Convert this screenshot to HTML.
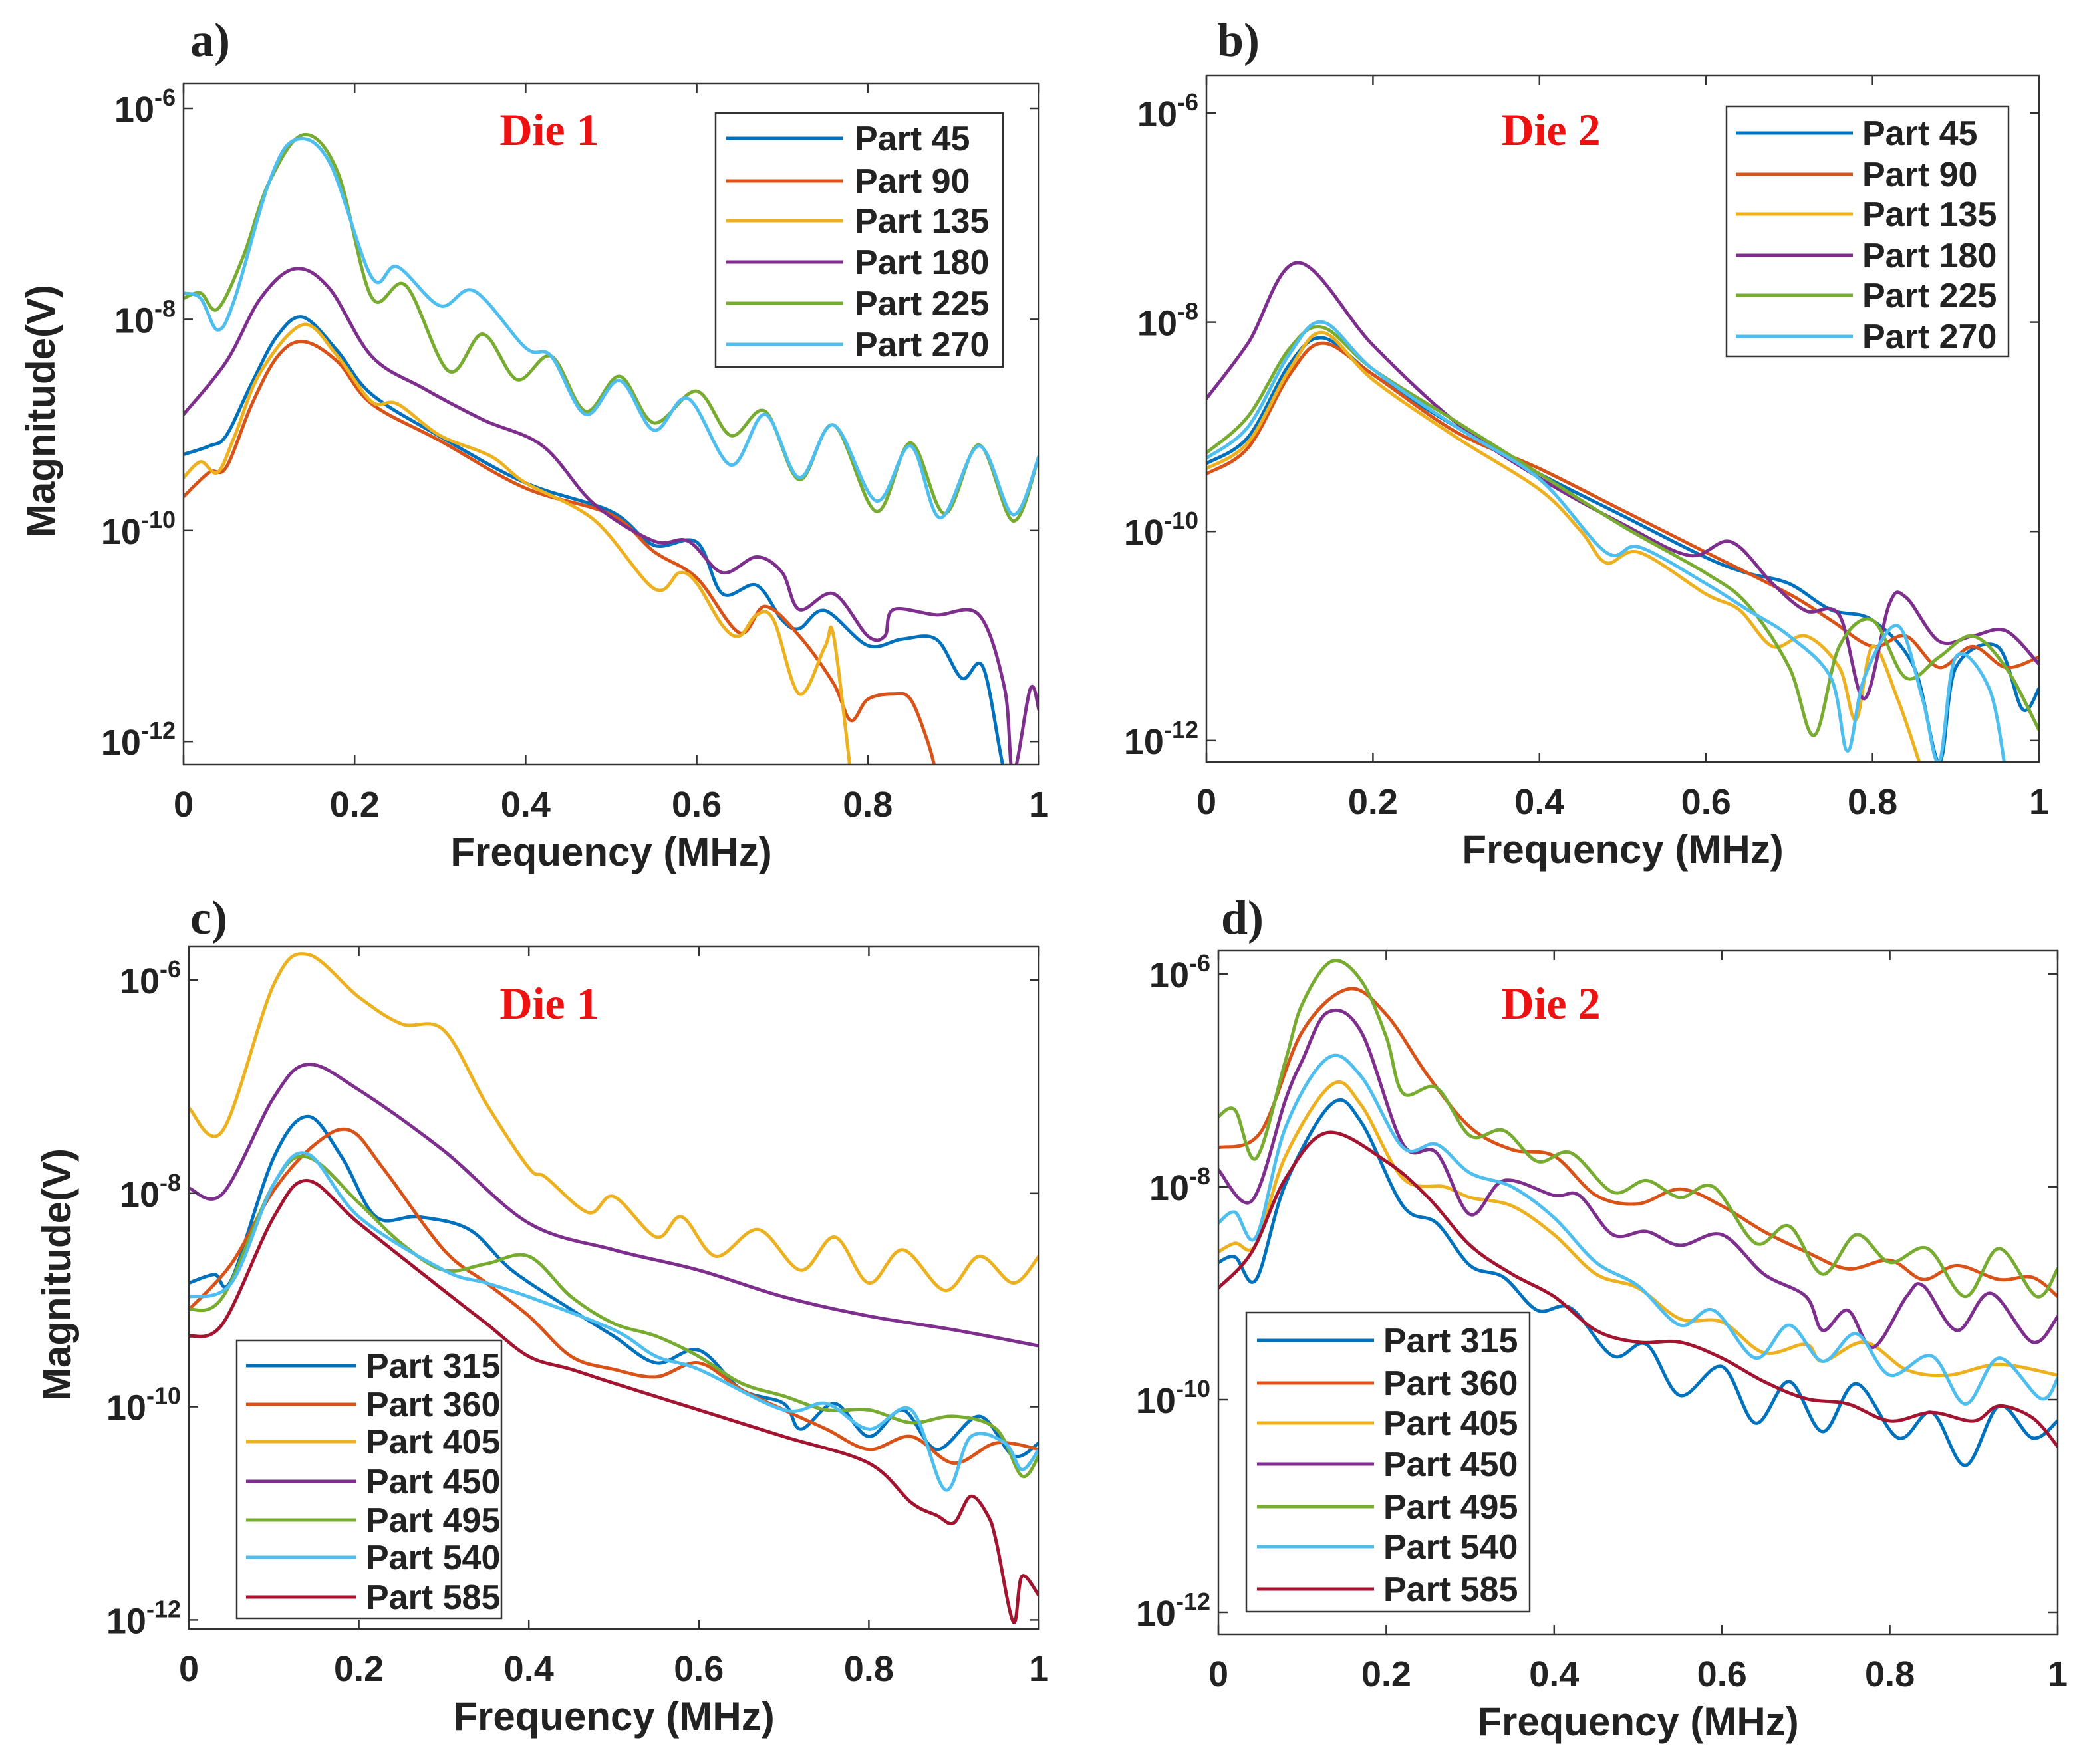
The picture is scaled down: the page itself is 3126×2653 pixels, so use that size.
<!DOCTYPE html>
<html><head><meta charset="utf-8"><style>
html,body{margin:0;padding:0;background:#fff}
svg{display:block}
text{font-family:"Liberation Sans",Arial,sans-serif;font-weight:bold;fill:#222}
.ser{fill:none;stroke-width:5;stroke-linejoin:round;stroke-linecap:round}
</style></head><body>
<svg id="fig" width="3126" height="2653" viewBox="0 0 3126 2653" xmlns="http://www.w3.org/2000/svg"></svg>
<script>
// ===== Data: frequency (MHz) and log10 magnitude (V) =====
// Panel a (Die 1)
const a45_f=[0,0.03,0.05,0.08,0.11,0.14,0.18,0.22,0.3,0.4,0.5,0.55,0.6,0.63,0.67,0.7,0.72,0.75,0.8,0.84,0.88,0.91,0.935,0.96,0.975];
const a45_m=[-9.28,-9.2,-9.1,-8.6,-8.15,-7.98,-8.3,-8.71,-9.11,-9.55,-9.82,-10.14,-10.11,-10.6,-10.52,-10.85,-10.93,-10.76,-11.09,-11.03,-11.03,-11.4,-11.3,-12.3,-12.4];
const a90_f=[0,0.03,0.05,0.08,0.11,0.14,0.18,0.22,0.3,0.4,0.5,0.55,0.6,0.65,0.68,0.72,0.76,0.78,0.8,0.83,0.85,0.87,0.88];
const a90_m=[-9.68,-9.45,-9.4,-8.8,-8.35,-8.21,-8.4,-8.8,-9.15,-9.6,-9.85,-10.2,-10.45,-10.97,-10.72,-11.0,-11.45,-11.8,-11.6,-11.55,-11.6,-12.0,-12.3];
const a135_f=[0,0.02,0.04,0.06,0.09,0.14,0.18,0.22,0.25,0.3,0.36,0.4,0.48,0.55,0.58,0.6,0.63,0.65,0.67,0.69,0.72,0.75,0.76,0.78];
const a135_m=[-9.5,-9.35,-9.45,-9.1,-8.5,-8.05,-8.35,-8.78,-8.8,-9.1,-9.3,-9.55,-9.9,-10.55,-10.4,-10.5,-10.9,-11.0,-10.8,-10.85,-11.55,-11.1,-11.0,-12.3];
const a180_f=[0,0.05,0.09,0.13,0.17,0.22,0.28,0.35,0.42,0.48,0.55,0.59,0.63,0.67,0.7,0.72,0.76,0.8,0.82,0.83,0.88,0.93,0.96,0.97,0.99,1.0];
const a180_m=[-8.9,-8.4,-7.8,-7.52,-7.7,-8.35,-8.65,-8.95,-9.2,-9.75,-10.1,-10.1,-10.4,-10.25,-10.4,-10.75,-10.6,-11.0,-11.0,-10.75,-10.8,-10.8,-11.5,-12.3,-11.5,-11.7];
const a225_f=[0,0.02,0.04,0.07,0.1,0.14,0.18,0.22,0.26,0.31,0.35,0.39,0.43,0.47,0.51,0.55,0.6,0.64,0.68,0.72,0.76,0.81,0.85,0.89,0.93,0.97,1.0];
const a225_m=[-7.8,-7.75,-7.9,-7.4,-6.7,-6.25,-6.6,-7.79,-7.68,-8.49,-8.14,-8.57,-8.35,-8.87,-8.54,-8.98,-8.68,-9.1,-8.87,-9.52,-9.0,-9.82,-9.17,-9.84,-9.19,-9.91,-9.3];
const a270_f=[0,0.02,0.04,0.06,0.1,0.13,0.17,0.22,0.25,0.3,0.34,0.4,0.43,0.47,0.51,0.55,0.59,0.64,0.68,0.72,0.76,0.81,0.85,0.885,0.93,0.97,1.0];
const a270_m=[-7.75,-7.8,-8.1,-7.8,-6.7,-6.3,-6.5,-7.6,-7.5,-7.87,-7.73,-8.27,-8.35,-8.9,-8.58,-9.05,-8.75,-9.38,-8.9,-9.5,-9.0,-9.72,-9.2,-9.88,-9.2,-9.85,-9.3];
// Panel b (Die 2)
const b45_f=[0,0.05,0.1,0.14,0.2,0.3,0.4,0.5,0.6,0.65,0.7,0.75,0.8,0.85,0.88,0.9,0.95,0.98,1.0];
const b45_m=[-9.35,-9.1,-8.4,-8.15,-8.5,-9.0,-9.45,-9.85,-10.25,-10.4,-10.5,-10.75,-10.85,-11.3,-12.2,-11.3,-11.1,-11.7,-11.5];
const b90_f=[0,0.05,0.1,0.14,0.2,0.3,0.4,0.5,0.6,0.7,0.75,0.8,0.84,0.88,0.92,0.96,1.0];
const b90_m=[-9.45,-9.2,-8.5,-8.2,-8.5,-9.05,-9.4,-9.8,-10.2,-10.6,-10.85,-11.1,-11.0,-11.3,-11.1,-11.3,-11.2];
const b135_f=[0,0.05,0.1,0.14,0.2,0.3,0.4,0.45,0.48,0.52,0.6,0.64,0.68,0.72,0.76,0.78,0.8,0.83,0.86];
const b135_m=[-9.4,-9.15,-8.45,-8.1,-8.55,-9.1,-9.6,-10.0,-10.3,-10.2,-10.6,-10.75,-11.1,-11.0,-11.3,-11.8,-11.1,-11.6,-12.3];
const b180_f=[0,0.05,0.11,0.2,0.3,0.4,0.5,0.58,0.63,0.68,0.72,0.76,0.79,0.82,0.84,0.88,0.92,0.96,1.0];
const b180_m=[-8.73,-8.2,-7.43,-8.22,-8.96,-9.49,-9.93,-10.23,-10.1,-10.5,-10.76,-10.8,-11.6,-10.7,-10.63,-11.05,-11.0,-10.95,-11.27];
const b225_f=[0,0.05,0.1,0.14,0.2,0.3,0.4,0.5,0.6,0.65,0.7,0.73,0.76,0.8,0.84,0.88,0.92,0.96,1.0];
const b225_m=[-9.25,-8.9,-8.25,-8.05,-8.45,-8.95,-9.45,-9.95,-10.4,-10.7,-11.3,-11.95,-11.1,-10.85,-11.4,-11.2,-11.0,-11.3,-11.9];
const b270_f=[0,0.05,0.1,0.14,0.2,0.3,0.4,0.48,0.52,0.6,0.65,0.7,0.75,0.77,0.79,0.83,0.86,0.88,0.9,0.94,0.96];
const b270_m=[-9.3,-9.0,-8.3,-8.0,-8.45,-9.0,-9.5,-10.2,-10.15,-10.5,-10.75,-11.0,-11.4,-12.1,-11.4,-10.9,-11.6,-12.2,-11.2,-11.5,-12.3];
// Panel c (Die 1)
const c315_f=[0,0.03,0.05,0.1,0.14,0.18,0.22,0.27,0.33,0.38,0.45,0.5,0.55,0.6,0.65,0.7,0.72,0.76,0.8,0.84,0.88,0.93,0.97,1.0];
const c315_m=[-8.84,-8.76,-8.81,-7.66,-7.28,-7.66,-8.22,-8.22,-8.34,-8.72,-9.09,-9.34,-9.59,-9.47,-9.84,-9.97,-10.21,-9.97,-10.28,-10.03,-10.4,-10.09,-10.46,-10.34];
const c360_f=[0,0.05,0.1,0.15,0.19,0.23,0.3,0.35,0.4,0.45,0.5,0.55,0.6,0.65,0.7,0.75,0.8,0.85,0.9,0.95,1.0];
const c360_m=[-9.09,-8.66,-7.97,-7.53,-7.41,-7.78,-8.53,-8.84,-9.15,-9.53,-9.65,-9.72,-9.59,-9.84,-10.03,-10.21,-10.4,-10.28,-10.53,-10.34,-10.4];
const c405_f=[0,0.04,0.1,0.14,0.2,0.25,0.3,0.35,0.4,0.42,0.47,0.5,0.55,0.58,0.62,0.67,0.72,0.76,0.8,0.84,0.89,0.93,0.97,1.0];
const c405_m=[-7.2,-7.41,-6.04,-5.76,-6.16,-6.41,-6.47,-7.16,-7.76,-7.85,-8.18,-8.03,-8.41,-8.22,-8.59,-8.34,-8.72,-8.41,-8.84,-8.53,-8.91,-8.59,-8.84,-8.59];
const c450_f=[0,0.04,0.1,0.14,0.2,0.3,0.4,0.5,0.6,0.7,0.8,0.9,1.0];
const c450_m=[-7.95,-8.0,-7.1,-6.79,-7.03,-7.6,-8.28,-8.53,-8.72,-8.97,-9.15,-9.28,-9.43];
const c495_f=[0,0.04,0.1,0.14,0.2,0.25,0.3,0.35,0.4,0.45,0.5,0.55,0.6,0.65,0.7,0.75,0.8,0.85,0.9,0.95,0.98,1.0];
const c495_m=[-9.09,-8.97,-7.91,-7.66,-8.09,-8.47,-8.72,-8.66,-8.59,-8.97,-9.22,-9.34,-9.53,-9.78,-9.9,-10.03,-10.03,-10.15,-10.09,-10.21,-10.65,-10.46];
const c540_f=[0,0.05,0.1,0.14,0.2,0.3,0.35,0.4,0.5,0.55,0.6,0.7,0.75,0.8,0.85,0.89,0.92,0.96,0.98,1.0];
const c540_m=[-8.97,-8.84,-7.91,-7.63,-8.22,-8.72,-8.84,-8.97,-9.28,-9.53,-9.65,-10.03,-9.97,-10.21,-10.03,-10.78,-10.28,-10.34,-10.59,-10.4];
const c585_f=[0,0.04,0.1,0.14,0.2,0.3,0.35,0.4,0.45,0.5,0.6,0.7,0.8,0.85,0.88,0.9,0.92,0.94,0.95,0.97,0.98,1.0];
const c585_m=[-9.34,-9.22,-8.22,-7.88,-8.28,-8.91,-9.22,-9.53,-9.65,-9.78,-10.03,-10.28,-10.53,-10.9,-11.02,-11.09,-10.84,-11.02,-11.27,-12.02,-11.59,-11.77];
// Panel d (Die 2)
const d315_f=[0,0.02,0.045,0.08,0.135,0.17,0.22,0.26,0.3,0.34,0.38,0.42,0.47,0.51,0.55,0.6,0.64,0.68,0.72,0.76,0.81,0.85,0.89,0.93,0.97,1.0];
const d315_m=[-8.71,-8.66,-8.87,-7.97,-7.22,-7.39,-8.18,-8.34,-8.74,-8.85,-9.16,-9.14,-9.59,-9.48,-9.96,-9.69,-10.22,-9.83,-10.3,-9.85,-10.36,-10.12,-10.62,-10.06,-10.36,-10.2];
const d360_f=[0,0.05,0.1,0.155,0.2,0.25,0.3,0.35,0.4,0.45,0.5,0.55,0.6,0.65,0.7,0.75,0.8,0.84,0.88,0.93,0.97,1.0];
const d360_m=[-7.63,-7.49,-6.54,-6.14,-6.38,-6.96,-7.44,-7.65,-7.71,-8.08,-8.16,-8.02,-8.18,-8.42,-8.61,-8.77,-8.69,-8.87,-8.74,-8.87,-8.85,-9.03];
const d405_f=[0,0.02,0.045,0.08,0.135,0.17,0.22,0.27,0.3,0.35,0.4,0.45,0.5,0.55,0.6,0.65,0.7,0.72,0.77,0.82,0.87,0.93,1.0];
const d405_m=[-8.61,-8.53,-8.54,-7.71,-7.04,-7.23,-7.92,-8.0,-8.1,-8.18,-8.45,-8.82,-8.95,-9.24,-9.27,-9.56,-9.48,-9.64,-9.46,-9.72,-9.77,-9.67,-9.77];
const d450_f=[0,0.04,0.08,0.1,0.13,0.17,0.22,0.26,0.3,0.34,0.4,0.43,0.47,0.51,0.55,0.6,0.65,0.7,0.72,0.75,0.78,0.82,0.84,0.88,0.92,0.97,1.0];
const d450_m=[-7.84,-8.13,-7.18,-6.81,-6.36,-6.54,-7.6,-7.68,-8.26,-7.94,-8.08,-8.08,-8.45,-8.42,-8.55,-8.45,-8.82,-9.03,-9.35,-9.16,-9.51,-9.03,-8.93,-9.35,-9.0,-9.46,-9.22];
const d495_f=[0,0.02,0.045,0.08,0.1,0.135,0.17,0.2,0.22,0.26,0.3,0.34,0.38,0.42,0.47,0.51,0.55,0.59,0.64,0.68,0.72,0.76,0.8,0.845,0.89,0.93,0.975,1.0];
const d495_m=[-7.34,-7.28,-7.73,-6.81,-6.28,-5.88,-6.06,-6.59,-7.12,-7.07,-7.52,-7.47,-7.76,-7.68,-8.05,-7.94,-8.1,-8.0,-8.53,-8.37,-8.82,-8.45,-8.71,-8.58,-9.03,-8.58,-9.03,-8.77];
const d540_f=[0,0.02,0.045,0.08,0.13,0.17,0.22,0.26,0.3,0.35,0.4,0.45,0.5,0.55,0.59,0.64,0.68,0.72,0.76,0.8,0.85,0.89,0.93,0.98,1.0];
const d540_m=[-8.34,-8.24,-8.47,-7.44,-6.79,-6.96,-7.63,-7.6,-7.87,-8.0,-8.29,-8.71,-8.93,-9.3,-9.16,-9.61,-9.3,-9.64,-9.38,-9.77,-9.59,-10.04,-9.61,-9.99,-9.8];
const d585_f=[0,0.04,0.08,0.13,0.2,0.25,0.3,0.35,0.4,0.45,0.5,0.55,0.6,0.65,0.7,0.75,0.8,0.85,0.9,0.93,0.97,1.0];
const d585_m=[-8.95,-8.61,-7.92,-7.49,-7.76,-8.1,-8.55,-8.82,-9.03,-9.35,-9.46,-9.46,-9.61,-9.83,-9.99,-10.04,-10.2,-10.12,-10.2,-10.06,-10.17,-10.44];

const xTicks=[0,0.2,0.4,0.6,0.8,1];
const xTickLabels=["0","0.2","0.4","0.6","0.8","1"];
const yTicks=[-6,-8,-10,-12];
const yTickExps=["-6","-8","-10","-12"];

const C={blue:"#0072BD",orange:"#D95319",yellow:"#EDB120",purple:"#7E2F8E",green:"#77AC30",cyan:"#4DBEEE",red:"#A2142F"};
const NS="http://www.w3.org/2000/svg";
const svg=document.getElementById('fig');
function mk(tag,attrs,parent){const e=document.createElementNS(NS,tag);for(const k in attrs)e.setAttribute(k,attrs[k]);(parent||svg).appendChild(e);return e;}

const panels=[
 {id:"a",L:276,R:1562,T:126,B:1150,y6:163,dec:158.7,label:"a)",lx:286,ly:84,die:"Die 1",dx:826,dy:218,ylab:true,ylabx:62,
  legend:{x:1076,y:170,w:432,h:382,lx1:1092,lx2:1268,tx:1285,ys:[208,272,332,394,456,518]},
  series:[["Part 45",a45_f,a45_m,C.blue],["Part 90",a90_f,a90_m,C.orange],["Part 135",a135_f,a135_m,C.yellow],["Part 180",a180_f,a180_m,C.purple],["Part 225",a225_f,a225_m,C.green],["Part 270",a270_f,a270_m,C.cyan]]},
 {id:"b",L:1814,R:3066,T:114,B:1146,y6:170,dec:157.3,label:"b)",lx:1830,ly:84,die:"Die 2",dx:2332,dy:218,ylab:false,
  legend:{x:2596,y:160,w:424,h:376,lx1:2610,lx2:2786,tx:2800,ys:[200,262,322,384,444,506]},
  series:[["Part 45",b45_f,b45_m,C.blue],["Part 90",b90_f,b90_m,C.orange],["Part 135",b135_f,b135_m,C.yellow],["Part 180",b180_f,b180_m,C.purple],["Part 225",b225_f,b225_m,C.green],["Part 270",b270_f,b270_m,C.cyan]]},
 {id:"c",L:284,R:1562,T:1424,B:2450,y6:1474,dec:160.4,label:"c)",lx:286,ly:1404,die:"Die 1",dx:826,dy:1532,ylab:true,ylabx:86,
  legend:{x:356,y:2016,w:398,h:418,lx1:370,lx2:536,tx:550,ys:[2054,2112,2168,2228,2286,2342,2402]},
  series:[["Part 315",c315_f,c315_m,C.blue],["Part 360",c360_f,c360_m,C.orange],["Part 405",c405_f,c405_m,C.yellow],["Part 450",c450_f,c450_m,C.purple],["Part 495",c495_f,c495_m,C.green],["Part 540",c540_f,c540_m,C.cyan],["Part 585",c585_f,c585_m,C.red]]},
 {id:"d",L:1832,R:3094,T:1430,B:2458,y6:1465,dec:160,label:"d)",lx:1836,ly:1404,die:"Die 2",dx:2332,dy:1532,ylab:false,
  legend:{x:1874,y:1974,w:426,h:450,lx1:1890,lx2:2066,tx:2080,ys:[2016,2080,2140,2202,2266,2326,2390]},
  series:[["Part 315",d315_f,d315_m,C.blue],["Part 360",d360_f,d360_m,C.orange],["Part 405",d405_f,d405_m,C.yellow],["Part 450",d450_f,d450_m,C.purple],["Part 495",d495_f,d495_m,C.green],["Part 540",d540_f,d540_m,C.cyan],["Part 585",d585_f,d585_m,C.red]]}
];

function smoothPath(pts){
  let d="M"+pts[0][0].toFixed(1)+","+pts[0][1].toFixed(1);
  for(let i=0;i<pts.length-1;i++){
    const p0=pts[i-1]||pts[i],p1=pts[i],p2=pts[i+1],p3=pts[i+2]||pts[i+1];
    const c1x=p1[0]+(p2[0]-p0[0])/6,c1y=p1[1]+(p2[1]-p0[1])/6;
    const c2x=p2[0]-(p3[0]-p1[0])/6,c2y=p2[1]-(p3[1]-p1[1])/6;
    d+=" C"+c1x.toFixed(1)+","+c1y.toFixed(1)+" "+c2x.toFixed(1)+","+c2y.toFixed(1)+" "+p2[0].toFixed(1)+","+p2[1].toFixed(1);
  }
  return d;
}

panels.forEach(p=>{
  const xs=v=>p.L+(p.R-p.L)*v;
  const ys=v=>p.y6+(-6-v)*p.dec;
  const g=mk('g',{});
  
  
  const cp=mk('clipPath',{id:'clip-'+p.id},g);
  mk('rect',{x:p.L,y:p.T,width:p.R-p.L,height:p.B-p.T},cp);
  // series
  const sg=mk('g',{'clip-path':'url(#clip-'+p.id+')'},g);
  p.series.forEach(s=>{
    const pts=s[1].map((f,i)=>[xs(f),ys(s[2][i])]);
    const path=mk('path',{d:smoothPath(pts),class:'ser',stroke:s[3]},sg);
    
    
  });
  // box
  const box=mk('rect',{x:p.L,y:p.T,width:p.R-p.L,height:p.B-p.T,fill:'none',stroke:'#333',"stroke-width":2.5},g);
  
  
  // x ticks
  xTicks.forEach((t,i)=>{
    const x=xs(t);
    mk('line',{x1:x,y1:p.B,x2:x,y2:p.B-14,stroke:'#333','stroke-width':2.5},g);
    mk('line',{x1:x,y1:p.T,x2:x,y2:p.T+14,stroke:'#333','stroke-width':2.5},g);
    const tx=mk('text',{x:x,y:p.B+78,'font-size':54,'text-anchor':'middle'},g);
    tx.textContent=xTickLabels[i];
    
    
  });
  yTicks.forEach((t,i)=>{
    const y=ys(t);
    mk('line',{x1:p.L,y1:y,x2:p.L+14,y2:y,stroke:'#333','stroke-width':2.5},g);
    mk('line',{x1:p.R,y1:y,x2:p.R-14,y2:y,stroke:'#333','stroke-width':2.5},g);
    const tx=mk('text',{x:p.L-12,y:y+20,'font-size':54,'text-anchor':'end'},g);
    
    
    const t1=mk('tspan',{},tx);t1.textContent="10";
    const t2=mk('tspan',{dy:-24,'font-size':36},tx);t2.textContent=yTickExps[i];
  });
  const xl=mk('text',{x:(p.L+p.R)/2,y:p.B+152,'font-size':60,'text-anchor':'middle',fill:'#333'},g);
  xl.textContent="Frequency (MHz)";
  
  
  if(p.ylab){
    const cy=(p.T+p.B)/2-20;
    const yl=mk('text',{x:p.ylabx,y:cy,'font-size':60,'text-anchor':'middle',transform:'rotate(-90 '+p.ylabx+' '+cy+')',dy:20,fill:'#333'},g);
    yl.textContent="Magnitude(V)";
    
    
  }
  const pl=mk('text',{x:p.lx,y:p.ly,'font-size':72,style:'font-family:"Liberation Serif",serif',fill:'#111'},g);
  pl.textContent=p.label;
  
  
  const die=mk('text',{x:p.dx,y:p.dy,'font-size':68,'text-anchor':'middle',style:'font-family:"Liberation Serif",serif;fill:#ee1111'},g);
  die.textContent=p.die;
  
  
  // legend
  const lg=mk('g',{},g);
  
  
  const L=p.legend;
  mk('rect',{x:L.x,y:L.y,width:L.w,height:L.h,fill:'#fff',stroke:'#333','stroke-width':2.5},lg);
  p.series.forEach((s,i)=>{
    const e=mk('g',{},lg);
    
    
    mk('line',{x1:L.lx1,x2:L.lx2,y1:L.ys[i],y2:L.ys[i],stroke:s[3],'stroke-width':5},e);
    const t=mk('text',{x:L.tx,y:L.ys[i]+18,'font-size':52,fill:'#111'},e);
    t.textContent=s[0];
  });
});
</script>
</body></html>
